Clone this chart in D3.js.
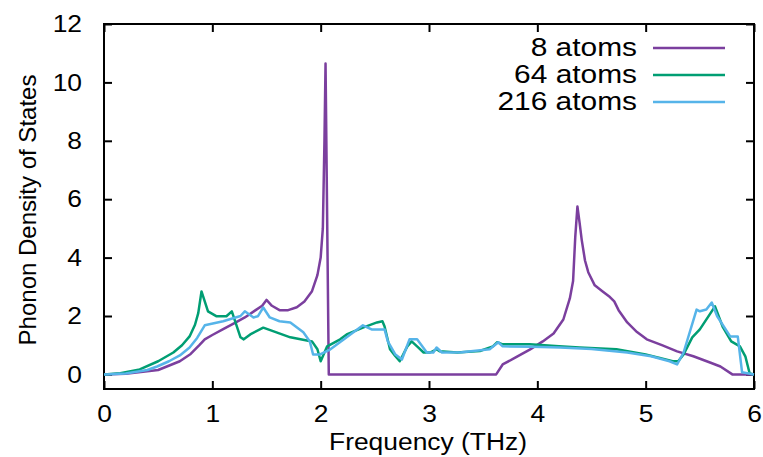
<!DOCTYPE html>
<html>
<head>
<meta charset="utf-8">
<script src="https://cdn.jsdelivr.net/npm/d3@7"></script>
<style>
  body { margin: 0; background: #fff; }
  text { font-family: "Liberation Sans", Arial, sans-serif; fill: #000; }
</style>
</head>
<body>
<div class="canvas-dos"></div>
<script>
// series
const seriesNames = ['8 atoms', '64 atoms', '216 atoms'];
const seriesColors = ['#7b3f9e', '#009e73', '#56b4e9'];

const freq8 = [0, 0.2, 0.5, 0.7, 0.8, 0.88, 0.93, 1.0, 1.1, 1.2, 1.3, 1.4, 1.46, 1.5, 1.55, 1.62, 1.7, 1.78, 1.85, 1.92, 1.97, 2.0, 2.02, 2.035, 2.045, 2.075, 2.5, 3.0, 3.62, 3.68, 3.8, 3.93, 4.05, 4.15, 4.24, 4.3, 4.33, 4.35, 4.37, 4.39, 4.41, 4.44, 4.47, 4.53, 4.6, 4.67, 4.71, 4.75, 4.83, 4.92, 5.01, 5.15, 5.29, 5.44, 5.6, 5.69, 5.8, 6.0];
const dos8 = [0, 0.02, 0.15, 0.45, 0.7, 1.0, 1.2, 1.35, 1.55, 1.75, 1.95, 2.2, 2.35, 2.55, 2.35, 2.2, 2.2, 2.3, 2.5, 2.85, 3.4, 4.0, 5.0, 8.0, 10.65, 0, 0, 0, 0, 0.34, 0.58, 0.85, 1.13, 1.4, 1.88, 2.6, 3.2, 4.7, 5.75, 5.2, 4.6, 3.9, 3.5, 3.05, 2.85, 2.65, 2.5, 2.2, 1.78, 1.45, 1.2, 1.0, 0.79, 0.62, 0.4, 0.27, 0, 0];

const freq64 = [0, 0.15, 0.33, 0.5, 0.64, 0.72, 0.79, 0.84, 0.87, 0.9, 0.96, 1.04, 1.13, 1.18, 1.26, 1.29, 1.35, 1.47, 1.56, 1.72, 1.92, 1.97, 2.0, 2.06, 2.18, 2.24, 2.39, 2.52, 2.57, 2.59, 2.64, 2.69, 2.73, 2.8, 2.84, 2.89, 2.95, 3.01, 3.07, 3.1, 3.26, 3.47, 3.59, 3.63, 3.68, 3.93, 4.2, 4.39, 4.73, 5.0, 5.25, 5.3, 5.35, 5.43, 5.5, 5.64, 5.71, 5.79, 5.87, 5.92, 5.96, 6.0];
const dos64 = [0, 0.04, 0.17, 0.45, 0.75, 1.0, 1.3, 1.7, 2.1, 2.84, 2.16, 1.99, 1.99, 2.16, 1.27, 1.2, 1.37, 1.6, 1.48, 1.27, 1.13, 0.86, 0.45, 0.96, 1.2, 1.37, 1.6, 1.78, 1.82, 1.64, 0.86, 0.62, 0.45, 0.96, 1.13, 0.96, 0.75, 0.75, 0.86, 0.79, 0.75, 0.8, 0.96, 1.1, 1.03, 1.03, 0.96, 0.92, 0.86, 0.68, 0.45, 0.45, 0.68, 1.27, 1.54, 2.33, 1.64, 1.13, 0.96, 0.62, 0.03, 0];

const freq216 = [0, 0.2, 0.4, 0.49, 0.6, 0.7, 0.79, 0.86, 0.93, 1.1, 1.26, 1.3, 1.38, 1.42, 1.47, 1.53, 1.62, 1.72, 1.84, 1.9, 1.93, 1.99, 2.09, 2.24, 2.39, 2.47, 2.59, 2.62, 2.69, 2.75, 2.82, 2.89, 2.98, 3.04, 3.07, 3.12, 3.3, 3.56, 3.64, 3.68, 3.95, 4.21, 4.5, 4.83, 5.05, 5.22, 5.29, 5.35, 5.47, 5.5, 5.56, 5.61, 5.66, 5.78, 5.85, 5.89, 6.0];
const dos216 = [0, 0.03, 0.15, 0.27, 0.45, 0.65, 0.92, 1.25, 1.68, 1.82, 2.0, 2.16, 1.95, 1.99, 2.29, 1.95, 1.82, 1.78, 1.44, 1.13, 0.68, 0.68, 0.86, 1.27, 1.68, 1.54, 1.54, 1.13, 0.68, 0.51, 1.2, 1.2, 0.75, 0.75, 0.92, 0.75, 0.76, 0.86, 1.1, 0.96, 0.95, 0.92, 0.87, 0.75, 0.62, 0.45, 0.34, 0.75, 2.22, 2.16, 2.22, 2.46, 1.99, 1.3, 1.3, 0.07, 0];

const xTicks = [0, 1, 2, 3, 4, 5, 6];
const yTicks = [0, 2, 4, 6, 8, 10, 12];

const width = 763,
    height = 457;
const margin = { top: 24, right: 9, bottom: 68, left: 104 };
const graphWidth = width - margin.left - margin.right;
const graphHeight = height - margin.top - margin.bottom;
const stretch = 'scale(1.1,1)';   // text in the picture is a bit wide

const svg = d3.select('.canvas-dos').append('svg')
    .attr('width', width)
    .attr('height', height);

const graph = svg.append('g')
    .attr('transform', `translate(${margin.left}, ${margin.top})`);

// Scales
const x = d3.scaleLinear().domain([0, 6]).range([0, graphWidth]);
const y = d3.scaleLinear().domain([-0.5, 12]).range([graphHeight, 0]);

// Axis, ticks point inward like gnuplot
const xAxis = d3.axisBottom(x).tickValues(xTicks).tickFormat(d3.format('d'))
    .tickSizeInner(-8).tickSizeOuter(0).tickPadding(16);
const yAxis = d3.axisLeft(y).tickValues(yTicks).tickFormat(d3.format('d'))
    .tickSizeInner(-8).tickSizeOuter(0).tickPadding(20);

const gx = graph.append('g')
    .attr('transform', `translate(0, ${graphHeight})`)
    .call(xAxis);
const gy = graph.append('g')
    .call(yAxis);
const gxTop = graph.append('g')
    .call(d3.axisTop(x).tickValues(xTicks).tickSizeInner(-8).tickSizeOuter(0).tickFormat(''));
const gyRight = graph.append('g')
    .attr('transform', `translate(${graphWidth}, 0)`)
    .call(d3.axisRight(y).tickValues(yTicks).tickSizeInner(-8).tickSizeOuter(0).tickFormat(''));

[gx, gy, gxTop, gyRight].forEach(g => {
    g.select('.domain').remove();
    g.selectAll('line').attr('stroke', '#000').attr('stroke-width', 2);
    g.selectAll('text')
        .attr('font-size', 24)
        .attr('font-family', '"Liberation Sans", Arial, sans-serif')
        .attr('transform', stretch);
});

// frame
graph.append('rect')
    .attr('x', 0)
    .attr('y', 0)
    .attr('width', graphWidth)
    .attr('height', graphHeight)
    .attr('fill', 'none')
    .attr('stroke', '#000')
    .attr('stroke-width', 2);

// lines
const allSeries = [
    freq8.map((f, i) => [f, dos8[i]]),
    freq64.map((f, i) => [f, dos64[i]]),
    freq216.map((f, i) => [f, dos216[i]])
];

const line = d3.line()
    .x(d => x(d[0]))
    .y(d => y(d[1]));

allSeries.forEach((s, i) => {
    graph.append('path')
        .datum(s)
        .attr('fill', 'none')
        .attr('stroke', seriesColors[i])
        .attr('stroke-width', 2.5)
        .attr('stroke-linejoin', 'round')
        .attr('d', line);
});

// Add x axis label
svg.append('g')
    .attr('transform', `translate(428, 450) ${stretch}`)
    .append('text')
    .attr('text-anchor', 'middle')
    .attr('font-size', 24)
    .text('Frequency (THz)');

// Add y axis label
svg.append('text')
    .attr('transform', 'translate(36, 210) rotate(-90)')
    .attr('text-anchor', 'middle')
    .attr('font-size', 24)
    .text('Phonon Density of States');

// legend
seriesNames.forEach((name, i) => {
    const ly = 48 + i * 27;
    svg.append('g')
        .attr('transform', `translate(637, ${ly + 8}) scale(1.15,1)`)
        .append('text')
        .attr('text-anchor', 'end')
        .attr('font-size', 26)
        .text(name);
    svg.append('line')
        .attr('x1', 653)
        .attr('x2', 725)
        .attr('y1', ly)
        .attr('y2', ly)
        .attr('stroke', seriesColors[i])
        .attr('stroke-width', 2.5);
});
</script>
</body>
</html>
